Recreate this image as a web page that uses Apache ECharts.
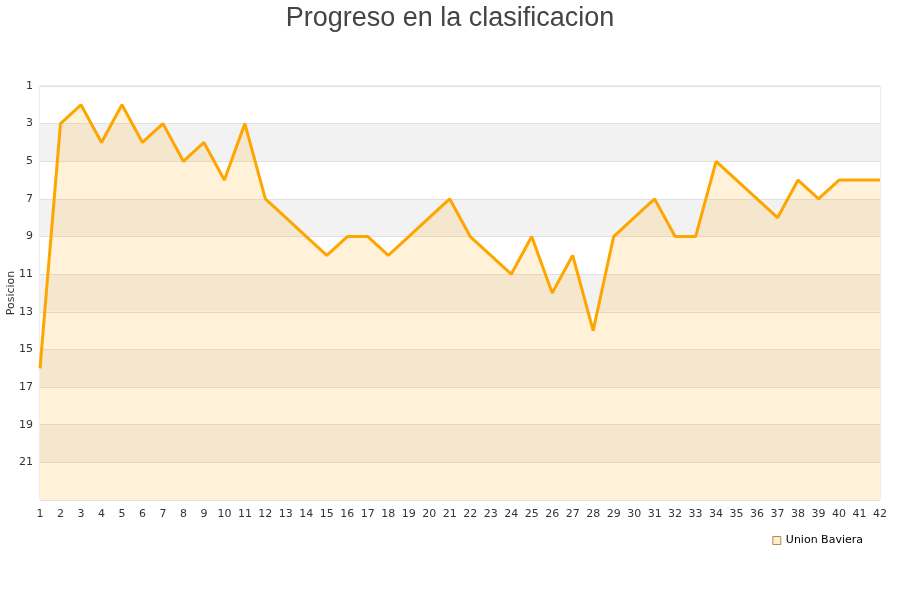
<!DOCTYPE html>
<html>
<head>
<meta charset="utf-8">
<script src="https://cdn.jsdelivr.net/npm/echarts@6/dist/echarts.min.js"></script>
<style>
  html, body { margin: 0; padding: 0; background: #fff; }
  #chart { width: 900px; height: 600px; }
</style>
</head>
<body>
<div id="chart"></div>
<script>
// jornadas 1..42
let jornadas = []
for (let i = 1; i <= 42; i++) jornadas.push(String(i))
// posicion por jornada
let posiciones = [16, 3, 2, 4, 2, 4, 3, 5, 4, 6, 3, 7, 8, 9, 10, 9, 9, 10, 9, 8, 7,
  9, 10, 11, 9, 12, 10, 14, 9, 8, 7, 9, 9, 5, 6, 7, 8, 6, 7, 6, 6, 6]
let equipo = 'Union Baviera'

let chart = echarts.init(document.getElementById('chart'))
chart.setOption({
  animation: false,
  title: {
    text: 'Progreso en la clasificacion',
    left: 'center',
    top: 0,
    textStyle: { fontFamily: 'Liberation Sans', fontSize: 27, fontWeight: 'normal', color: '#444' }
  },
  grid: {
    left: 40, right: 20, top: 86, bottom: 100,
    containLabel: false, outerBoundsMode: 'none',
    show: true, borderColor: '#dcdcdc', borderWidth: 1
  },
  legend: {
    right: 32,
    top: 530,
    icon: 'rect',
    itemWidth: 8,
    itemHeight: 8,
    itemGap: 8,
    textStyle: { fontFamily: 'DejaVu Sans', fontSize: 11, color: '#000' },
    data: [{ name: equipo, itemStyle: { color: '#ffeecb', borderColor: '#b08a50', borderWidth: 1 } }]
  },
  xAxis: {
    type: 'category',
    boundaryGap: false,
    data: jornadas,
    axisLine: { show: false },
    axisTick: { show: false },
    axisLabel: { interval: 0, margin: 9, fontFamily: 'DejaVu Sans', fontSize: 11, color: '#333' },
    splitLine: { show: false }
  },
  yAxis: {
    type: 'value',
    inverse: true,
    min: 1,
    max: 23,
    interval: 2,
    name: 'Posicion',
    nameLocation: 'middle',
    nameGap: 23,
    nameMoveOverlap: false,
    nameTextStyle: { fontFamily: 'DejaVu Sans', fontSize: 11, color: '#333' },
    axisLine: { show: false },
    axisTick: { show: false },
    axisLabel: {
      margin: 7,
      fontFamily: 'DejaVu Sans', fontSize: 11, color: '#333',
      formatter: v => (v >= 23 ? '' : v)
    },
    splitLine: { show: true, lineStyle: { color: '#e0e0e0', width: 1 } },
    splitArea: { show: true, areaStyle: { color: ['#ffffff', '#f2f2f2'] } }
  },
  series: [{
    name: equipo,
    type: 'line',
    data: posiciones,
    showSymbol: false,
    symbol: 'none',
    color: '#FFA500',
    lineStyle: { color: '#FFA500', width: 3 },
    areaStyle: { origin: 'end', color: 'rgba(255,180,40,0.25)' }
  }]
})
</script>
</body>
</html>
